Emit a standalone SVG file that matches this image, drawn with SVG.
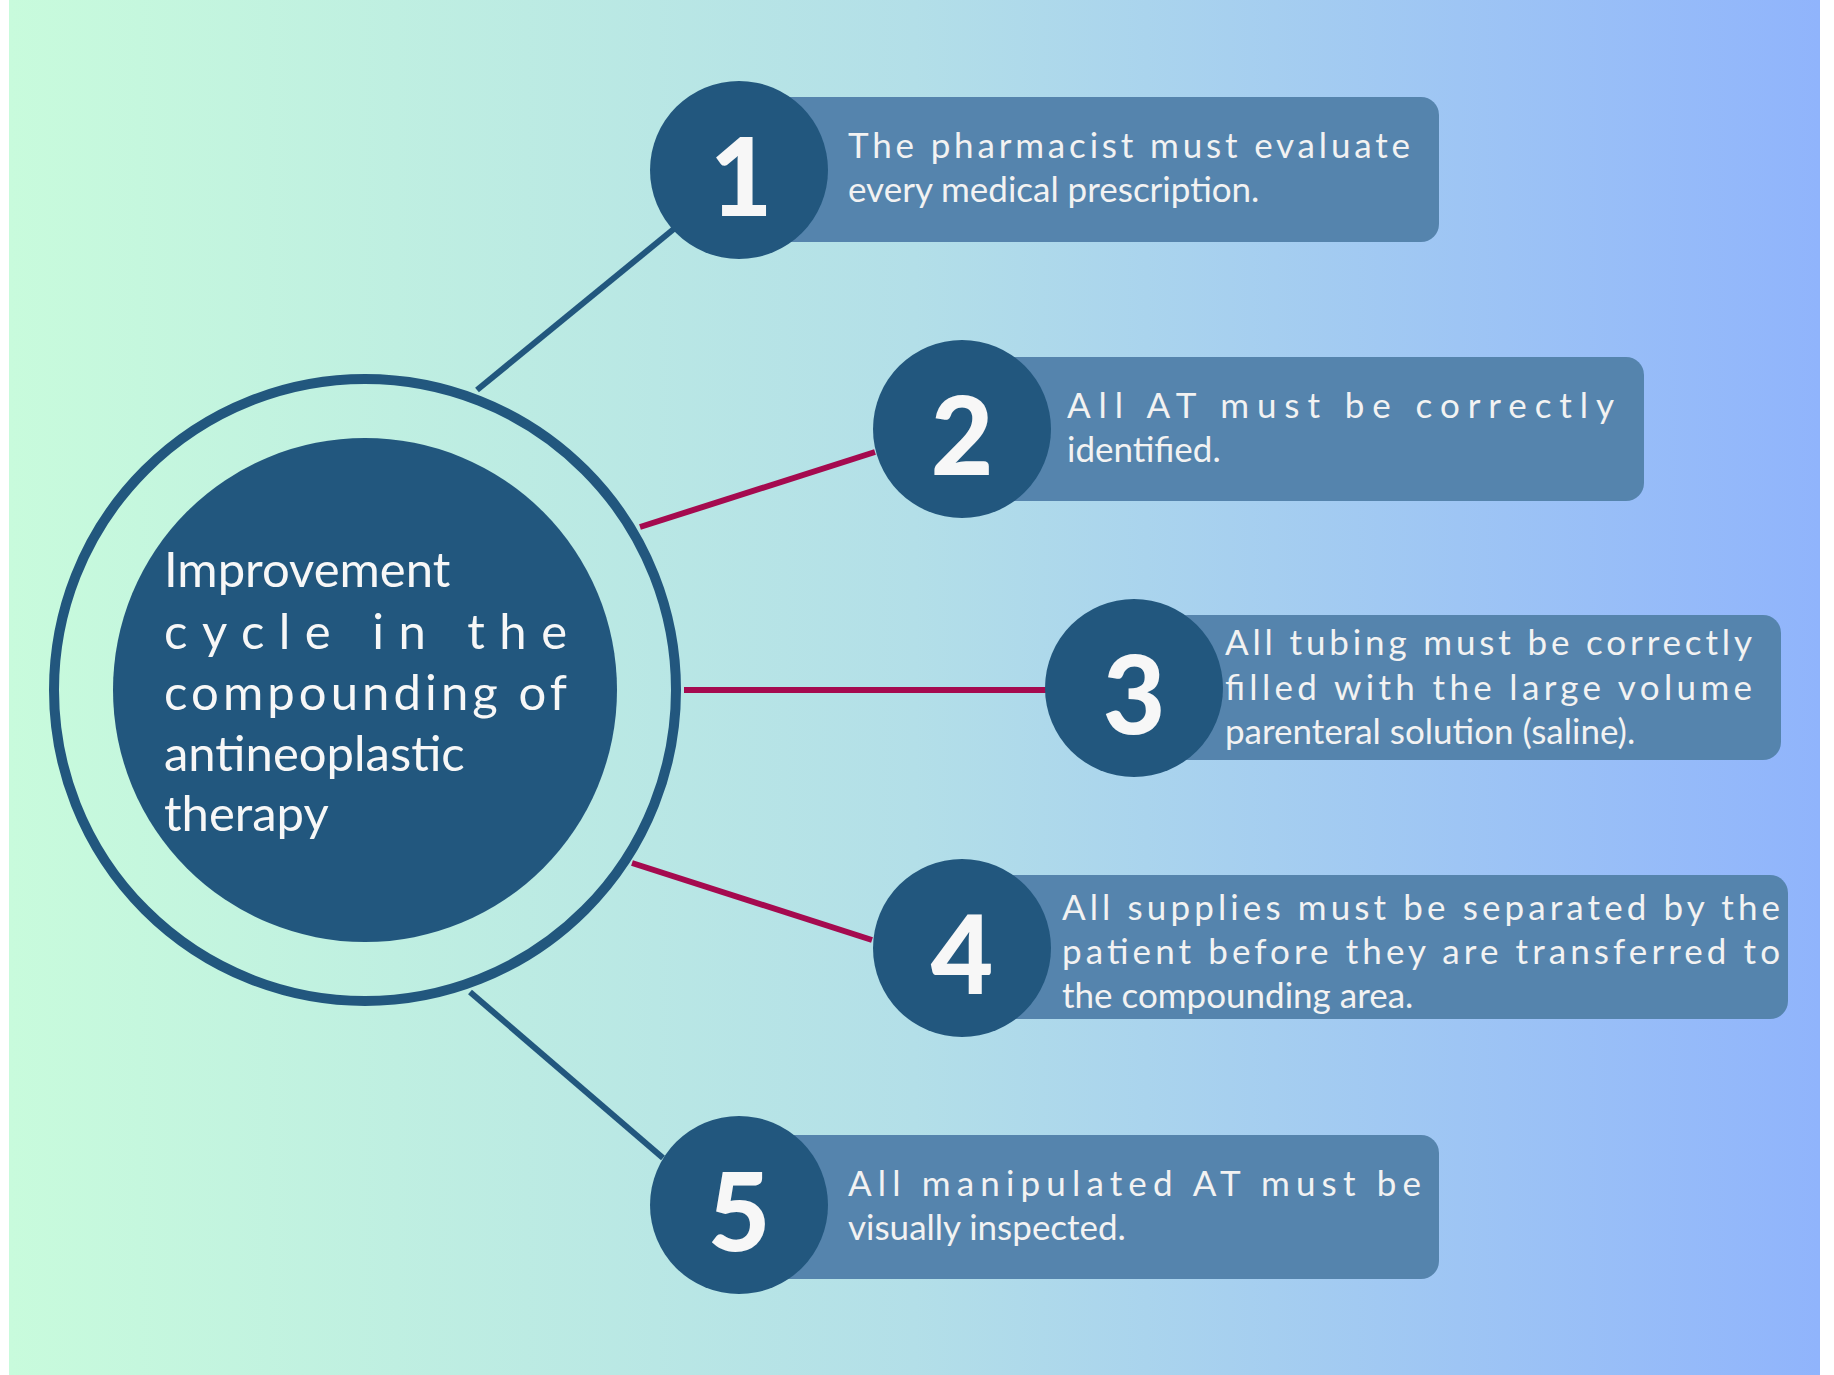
<svg xmlns="http://www.w3.org/2000/svg" width="1834" height="1375" viewBox="0 0 1834 1375">
<defs>
<linearGradient id="bg" x1="0" y1="0" x2="1" y2="0">
<stop offset="0" stop-color="#c8fbdc"/><stop offset="0.5" stop-color="#b3dfe8"/><stop offset="1" stop-color="#90b4fc"/>
</linearGradient>
<style>
.box{fill:#5584ad}
.num{fill:#22577e}
.nt{fill:#f7f7f7;font-family:Lato,"Liberation Sans",sans-serif;font-weight:900;font-size:108px;text-anchor:middle;dominant-baseline:central}
.t{fill:#f2f2f2;font-family:Lato,"Open Sans",sans-serif;font-size:35px}
.ct{fill:#f7f7f7;font-family:Lato,"Open Sans",sans-serif;font-size:49px}
.navy{stroke:#22577e;stroke-width:6;fill:none}
.red{stroke:#a50a4f;stroke-width:6;fill:none}
</style>
</defs>
<rect width="1834" height="1375" fill="#ffffff"/>
<rect x="9" y="0" width="1811" height="1375" fill="url(#bg)"/>
<g id="connectors">
<line class="navy" x1="477" y1="390" x2="675" y2="228"/>
<line class="red" x1="640" y1="527" x2="875" y2="452"/>
<line class="red" x1="684" y1="690" x2="1047" y2="690"/>
<line class="red" x1="632" y1="863" x2="872" y2="940"/>
<line class="navy" x1="470" y1="992" x2="663" y2="1158"/>
</g>
<g id="center">
<circle cx="365" cy="690" r="311" fill="none" stroke="#22577e" stroke-width="10"/>
<circle cx="365" cy="690" r="252" fill="#22577e"/>
<text class="ct" x="164" y="587">Improvement</text>
<text class="ct" x="164" y="649" textLength="403" lengthAdjust="spacing">cycle in the</text>
<text class="ct" x="164" y="710" textLength="403" lengthAdjust="spacing">compounding of</text>
<text class="ct" x="164" y="771">antineoplastic</text>
<text class="ct" x="164" y="831">therapy</text>
</g>
<g id="step1">
<rect class="box" x="772" y="97" width="667" height="145" rx="18"/>
<circle class="num" cx="739" cy="170" r="89"/>
<text class="nt" x="741" y="174">1</text>
<text class="t" x="848" y="158" textLength="562" lengthAdjust="spacing">The pharmacist must evaluate</text>
<text class="t" x="848" y="202">every medical prescription.</text>
</g>
<g id="step2">
<rect class="box" x="994" y="357" width="650" height="144" rx="18"/>
<circle class="num" cx="962" cy="429" r="89"/>
<text class="nt" x="962" y="433">2</text>
<text class="t" x="1067" y="418" textLength="547" lengthAdjust="spacing">All AT must be correctly</text>
<text class="t" x="1067" y="462">identified.</text>
</g>
<g id="step3">
<rect class="box" x="1170" y="615" width="611" height="145" rx="18"/>
<circle class="num" cx="1134" cy="688" r="89"/>
<text class="nt" x="1134" y="692">3</text>
<text class="t" x="1225" y="655" textLength="527" lengthAdjust="spacing">All tubing must be correctly</text>
<text class="t" x="1225" y="700" textLength="527" lengthAdjust="spacing">filled with the large volume</text>
<text class="t" x="1225" y="744">parenteral solution (saline).</text>
</g>
<g id="step4">
<rect class="box" x="994" y="875" width="794" height="144" rx="18"/>
<circle class="num" cx="962" cy="948" r="89"/>
<text class="nt" x="962" y="952">4</text>
<text class="t" x="1062" y="920" textLength="718" lengthAdjust="spacing">All supplies must be separated by the</text>
<text class="t" x="1062" y="964" textLength="718" lengthAdjust="spacing">patient before they are transferred to</text>
<text class="t" x="1062" y="1008">the compounding area.</text>
</g>
<g id="step5">
<rect class="box" x="772" y="1135" width="667" height="144" rx="18"/>
<circle class="num" cx="739" cy="1205" r="89"/>
<text class="nt" x="739" y="1209">5</text>
<text class="t" x="848" y="1196" textLength="573" lengthAdjust="spacing">All manipulated AT must be</text>
<text class="t" x="848" y="1240">visually inspected.</text>
</g>
</svg>
